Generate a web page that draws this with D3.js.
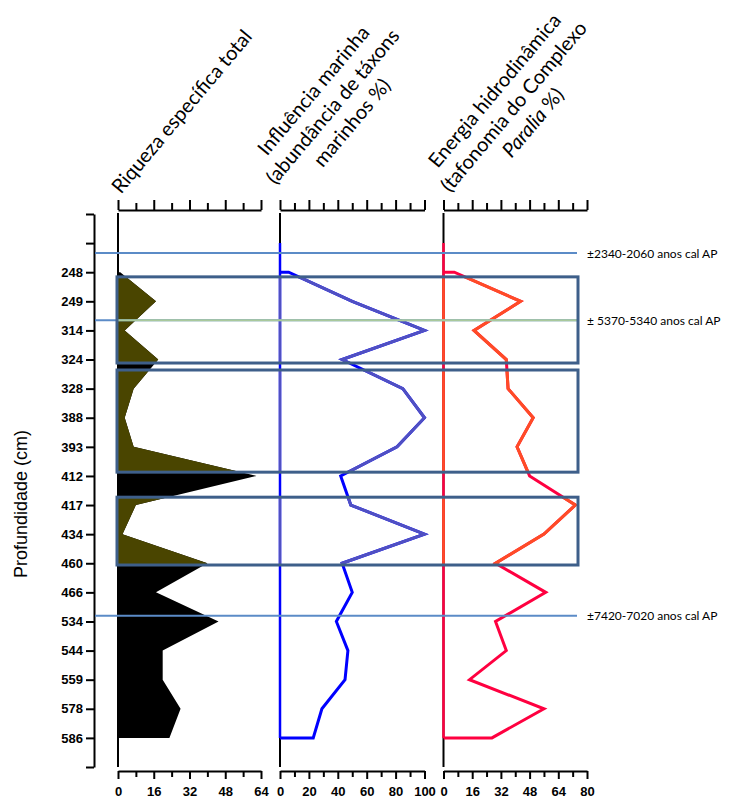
<!DOCTYPE html>
<html>
<head>
<meta charset="utf-8">
<script src="https://cdn.jsdelivr.net/npm/d3@7"></script>
<style>
  body { margin: 0; background: #fff; }
  .eixo path, .eixo line { stroke: #000; stroke-width: 2; }
  .eixo text { font-family: "Liberation Sans Narrow", "Liberation Sans", Arial, sans-serif; font-weight: bold; font-size: 13px; fill: #000; }
  .titulo { font-family: Lato, "Open Sans", sans-serif; font-size: 20px; fill: #000; }
  .data { font-family: Lato, "Open Sans", sans-serif; font-size: 12px; fill: #000; }
</style>
</head>
<body>
<script>
// profundidades (cm) nas posicoes do eixo; as vazias sao marcas sem rotulo
var depths = ["", "", "248", "249", "314", "324", "328", "388", "393", "412", "417",
              "434", "460", "466", "534", "544", "559", "578", "586", ""]
var firstSample = 2

// valores de 248 a 586
var riqueza = [1, 17, 3, 18, 7, 3, 7, 62, 8, 2, 40, 17, 45, 20, 20, 28, 23]
var marinha = [6, 50, 100, 43, 85, 100, 81, 42, 49, 100, 43, 50, 39, 47, 45, 29, 23]
var energia = [6, 43, 17, 35, 36, 50, 41, 48, 73.5, 56, 29, 57, 29, 35, 14.5, 56, 27]

// intervalos destacados (em posicoes do eixo de profundidade)
var caixas = [[2.16, 5.12], [5.36, 8.87], [9.73, 12.06]]

// datacoes
var datasPos = [1.34, 3.65, 13.8]
var datasRotulo = ["±2340-2060 anos cal AP", "± 5370-5340 anos cal AP", "±7420-7020 anos cal AP"]

var width = 735, height = 802

var svg = d3.select("body").append("svg")
    .attr("width", width)
    .attr("height", height)

var y = d3.scaleLinear().domain([0, depths.length - 1]).range([214, 767])

var x1 = d3.scaleLinear().domain([0, 64]).range([118, 261])
var x2 = d3.scaleLinear().domain([0, 100]).range([280, 424.5])
var x3 = d3.scaleLinear().domain([0, 80]).range([443.5, 587])

var panels = [
  { x: x1, step: 8, major: 16, values: riqueza },
  { x: x2, step: 10, major: 20, values: marinha, out: "#0000ff", inn: "#5050c2" },
  { x: x3, step: 8, major: 16, values: energia, out: "#ff0040", inn: "#ff4c26" }
]

function pts(vals) {
  return vals.map(function(v, k) { return { i: k + firstSample, v: v } })
}

svg.append("defs").append("clipPath")
    .attr("id", "clipCaixas")
  .selectAll("rect")
    .data(caixas)
  .enter().append("rect")
    .attr("x", 117)
    .attr("y", function(d) { return y(d[0]) })
    .attr("width", 578 - 117)
    .attr("height", function(d) { return y(d[1]) - y(d[0]) })

// eixo de profundidade
var yAxis = svg.append("g")
    .attr("class", "eixo")
    .attr("transform", "translate(94,0)")
    .call(d3.axisLeft(y)
      .tickValues(d3.range(depths.length))
      .tickFormat(function(i) { return depths[i] })
      .tickSize(8)
      .tickPadding(3)
      .tickSizeOuter(0))

svg.append("text")
    .attr("transform", "translate(21,504) rotate(-90)")
    .attr("text-anchor", "middle")
    .attr("dominant-baseline", "central")
    .style("font-family", "'Liberation Sans', Arial, sans-serif")
    .style("font-size", "18px")
    .text("Profundidade (cm)")

panels.forEach(function(p, n) {
  var x = p.x
  var ticks = d3.range(0, x.domain()[1] + 0.1, p.step)

  var top = svg.append("g")
      .attr("class", "eixo")
      .attr("transform", "translate(0,210)")
      .call(d3.axisTop(x).tickValues(ticks).tickFormat("").tickSizeOuter(0))
  top.selectAll(".tick line")
      .attr("y2", function(d) { return d % p.major == 0 ? -10 : -7 })

  var bot = svg.append("g")
      .attr("class", "eixo")
      .attr("transform", "translate(0,771)")
      .call(d3.axisBottom(x).tickValues(ticks)
        .tickFormat(function(d) { return d % p.major == 0 ? d : "" })
        .tickSizeOuter(0))
  bot.selectAll(".tick line")
      .attr("y2", function(d) { return d % p.major == 0 ? 8 : 6 })
  bot.selectAll(".tick text").attr("y", 16)

  // linha base
  svg.append("line")
      .attr("x1", x(0)).attr("x2", x(0))
      .attr("y1", y(0) - 1).attr("y2", y(depths.length - 1))
      .style("stroke", "#000")
      .style("stroke-width", 2)

  var data = pts(p.values)

  if (n == 0) {
    var area = d3.area()
        .x0(x(0))
        .x1(function(d) { return x(d.v) })
        .y(function(d) { return y(d.i) })
    svg.append("path")
        .datum(data)
        .attr("d", area)
        .style("fill", "#000")
    svg.append("path")
        .datum(data)
        .attr("d", area)
        .attr("clip-path", "url(#clipCaixas)")
        .style("fill", "#4a4500")
  } else {
    var full = [{ i: firstSample, v: 0 }].concat(data).concat([{ i: data[data.length - 1].i, v: 0 }])
    var line = d3.line()
        .x(function(d) { return x(d.v) })
        .y(function(d) { return y(d.i) })
    ;[[p.out, null], [p.inn, "url(#clipCaixas)"]].forEach(function(c) {
      var g = svg.append("g").attr("clip-path", c[1])
      g.append("line")
          .attr("x1", x(0)).attr("x2", x(0))
          .attr("y1", y(1)).attr("y2", y(firstSample + data.length - 1))
          .style("stroke", c[0])
          .style("stroke-width", 2.5)
      g.append("path")
          .datum(full)
          .attr("d", line)
          .style("fill", "none")
          .style("stroke", c[0])
          .style("stroke-width", 3)
          .style("stroke-linejoin", "miter")
    })
  }
})

// linhas de datacao
svg.selectAll(".dataLinha")
    .data(datasPos)
  .enter().append("line")
    .attr("class", "dataLinha")
    .attr("x1", 95).attr("x2", 577)
    .attr("y1", function(d) { return y(d) })
    .attr("y2", function(d) { return y(d) })
    .style("stroke", "#5b8bc7")
    .style("stroke-width", 2)

svg.append("g").attr("clip-path", "url(#clipCaixas)")
  .selectAll("line")
    .data(datasPos)
  .enter().append("line")
    .attr("x1", 95).attr("x2", 577)
    .attr("y1", function(d) { return y(d) })
    .attr("y2", function(d) { return y(d) })
    .style("stroke", "#a9c99c")
    .style("stroke-width", 2)

svg.selectAll(".data")
    .data(datasRotulo)
  .enter().append("text")
    .attr("class", "data")
    .attr("x", 587)
    .attr("y", function(d, i) { return y(datasPos[i]) })
    .attr("dominant-baseline", "central")
    .text(function(d) { return d })

// caixas
svg.selectAll(".caixa")
    .data(caixas)
  .enter().append("rect")
    .attr("class", "caixa")
    .attr("x", 117)
    .attr("y", function(d) { return y(d[0]) })
    .attr("width", 578 - 117)
    .attr("height", function(d) { return y(d[1]) - y(d[0]) })
    .style("fill", "none")
    .style("stroke", "#3e5f8a")
    .style("stroke-width", 3)

// titulos inclinados
var titulos = [
  { cx: 187, cy: 116, lines: [["Riqueza específica total"]] },
  { cx: 338, cy: 111, lines: [["Influência marinha"], ["(abundância de táxons"], ["marinhos %)"]] },
  { cx: 519, cy: 111, lines: [["Energia hidrodinâmica"], ["(tafonomia do Complexo"], ["Paralia", " %)"]] }
]
var lh = 25
titulos.forEach(function(t) {
  var g = svg.append("g")
      .attr("transform", "translate(" + t.cx + "," + t.cy + ") rotate(-50)")
  var mid = (t.lines.length - 1) / 2
  t.lines.forEach(function(l, k) {
    var tx = g.append("text")
        .attr("class", "titulo")
        .attr("text-anchor", "middle")
        .attr("y", (k - mid) * lh)
    l.forEach(function(s, j) {
      tx.append("tspan")
          .style("font-style", l.length > 1 && j == 0 ? "italic" : null)
          .text(s)
    })
  })
})
</script>
</body>
</html>
